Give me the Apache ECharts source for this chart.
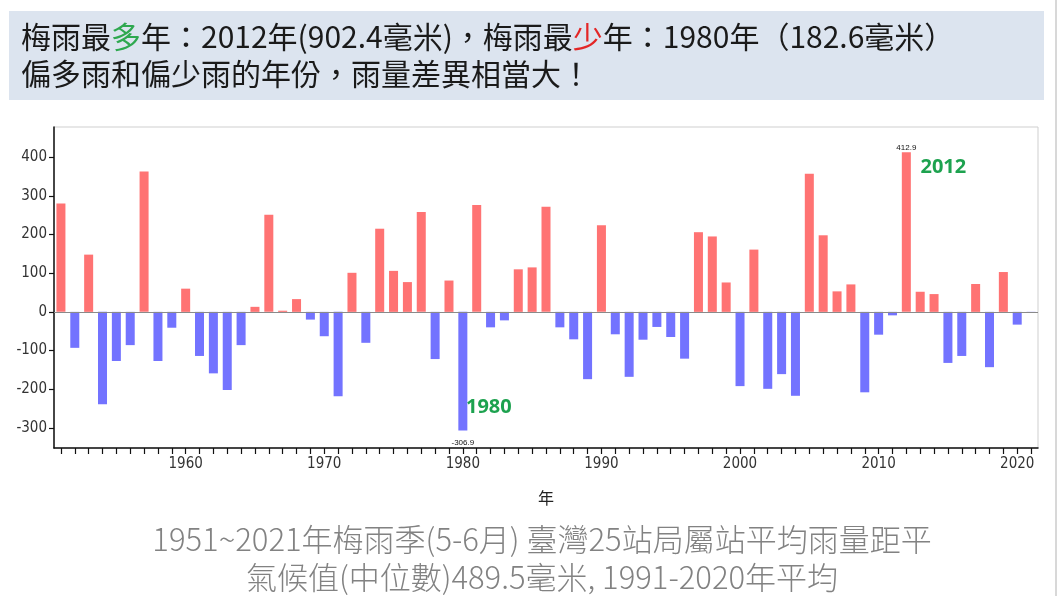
<!DOCTYPE html>
<html><head><meta charset="utf-8">
<script src="https://cdn.jsdelivr.net/npm/echarts@6/dist/echarts.min.js"></script>
<style>html,body{margin:0;padding:0;background:#fff}#c{width:1060px;height:596px}</style>
</head><body><div id="c"></div>
<script>
const years = ['1951','1952','1953','1954','1955','1956','1957','1958','1959','1960',
  '1961','1962','1963','1964','1965','1966','1967','1968','1969','1970',
  '1971','1972','1973','1974','1975','1976','1977','1978','1979','1980',
  '1981','1982','1983','1984','1985','1986','1987','1988','1989','1990',
  '1991','1992','1993','1994','1995','1996','1997','1998','1999','2000',
  '2001','2002','2003','2004','2005','2006','2007','2008','2009','2010',
  '2011','2012','2013','2014','2015','2016','2017','2018','2019','2020','2021'];
const anomalies = [280,-93,148,-239,-127,-86,363,-127,-41,60,
  -114,-159,-202,-86,13,251,3,33,-20,-63,
  -218,101,-80,215,106,77,258,-122,81,-306.9,
  276,-40,-22,110,115,272,-40,-71,-174,224,
  -58,-168,-72,-39,-65,-121,206,195,76,-192,
  161,-199,-161,-217,357,198,53,71,-208,-59,
  -9,412.9,52,46,-132,-114,72,-143,103,-33,-2];
const yTicks = [-300,-200,-100,0,100,200,300,400];
const xLabelYears = ['1960','1970','1980','1990','2000','2010','2020'];
const titleLine1 = ['梅雨最','多','年：2012年(902.4毫米)，梅雨最','少','年：1980年（182.6毫米）'];
const titleLine2 = '偏多雨和偏少雨的年份，雨量差異相當大！';
const captionLine1 = '1951~2021年梅雨季(5-6月) 臺灣25站局屬站平均雨量距平';
const captionLine2 = '氣候值(中位數)489.5毫米, 1991-2020年平均';
const axisName = '年';

const RED = '#FF7373', BLUE = '#7373FF', GREEN = '#1DA24F';
let iMax = 0, iMin = 0;
anomalies.forEach((v, i) => { if (v > anomalies[iMax]) iMax = i; if (v < anomalies[iMin]) iMin = i; });

const barData = anomalies.map((v, i) => {
  const item = { value: v, itemStyle: { color: v >= 0 ? RED : BLUE } };
  if (i === iMax || i === iMin) {
    item.label = { show: true, position: v >= 0 ? 'top' : 'bottom', distance: v >= 0 ? 0 : 8,
      formatter: String(v), fontSize: 8, color: '#111', fontFamily: 'Liberation Sans Narrow, Arial, sans-serif' };
  }
  return item;
});

const chart = echarts.init(document.getElementById('c'), null, { renderer: 'canvas' });
const cjk = '"Noto Sans CJK TC", "Noto Sans", sans-serif';
const narrow = '"Liberation Sans Narrow", "DejaVu Sans Condensed", Arial, sans-serif';

chart.setOption({
  animation: false,
  backgroundColor: '#fff',
  grid: { left: 54, right: 22, top: 127, bottom: 148, show: true, borderColor: '#cfcfcf', borderWidth: 1, backgroundColor: 'transparent' },
  xAxis: {
    type: 'category', data: years, boundaryGap: true,
    name: axisName, nameLocation: 'middle', nameGap: 42,
    nameTextStyle: { fontSize: 16, color: '#222', fontFamily: cjk },
    axisLine: { onZero: false, lineStyle: { color: '#111', width: 1.5 } },
    axisTick: { show: true, interval: 0, alignWithLabel: true, length: 6, lineStyle: { color: '#111', width: 1.2 } },
    axisLabel: { interval: (idx, val) => xLabelYears.indexOf(val) >= 0, fontSize: 15, color: '#333', fontFamily: narrow, margin: 9 },
    splitLine: { show: false }
  },
  yAxis: {
    type: 'value', min: -352, max: 478,
    axisLine: { show: true, lineStyle: { color: '#111', width: 1.5 } },
    axisTick: { show: true, length: 5, customValues: yTicks, lineStyle: { color: '#111', width: 1.2 } },
    axisLabel: { customValues: yTicks, fontSize: 15, color: '#333', fontFamily: narrow, margin: 7 },
    splitLine: { show: false }
  },
  series: [{
    type: 'bar', data: barData, barWidth: '65%',
    markLine: {
      silent: true, symbol: 'none', label: { show: false },
      lineStyle: { color: '#8a8a8a', type: 'solid', width: 1 },
      data: [{ yAxis: 0 }]
    },
    markPoint: {
      silent: true, symbol: 'rect', symbolSize: 1, itemStyle: { color: 'rgba(0,0,0,0)' },
      label: { show: true, position: 'inside', color: GREEN, fontSize: 20, fontWeight: 'bold', fontFamily: '"Open Sans", "Noto Sans", sans-serif' },
      data: [
        { coord: [years[iMax], anomalies[iMax]], label: { formatter: years[iMax], offset: [37, 15] } },
        { coord: [years[iMin], anomalies[iMin]], label: { formatter: years[iMin], offset: [26, -23] } }
      ]
    }
  }],
  graphic: [
    { type: 'rect', shape: { x: 9, y: 11, width: 1035, height: 89 }, style: { fill: '#DCE4EF' }, z: -1 },
    { type: 'text', x: 21, y: 37, style: {
        text: '{a|' + titleLine1[0] + '}{g|' + titleLine1[1] + '}{a|' + titleLine1[2] + '}{r|' + titleLine1[3] + '}{a|' + titleLine1[4] + '}',
        verticalAlign: 'middle',
        rich: {
          a: { fontSize: 30, fontFamily: cjk, fill: '#1a1a1a' },
          g: { fontSize: 30, fontFamily: cjk, fill: '#2EA84F' },
          r: { fontSize: 30, fontFamily: cjk, fill: '#E32626' }
        } } },
    { type: 'text', x: 21, y: 74, style: { text: titleLine2, fontSize: 30, fontFamily: cjk, fill: '#1a1a1a', verticalAlign: 'middle' } },
    { type: 'text', x: 542, y: 539, style: { text: captionLine1, fontSize: 31, fontFamily: cjk, fill: '#828282', align: 'center', verticalAlign: 'middle', fontWeight: 300 } },
    { type: 'text', x: 542, y: 577, style: { text: captionLine2, fontSize: 31, fontFamily: cjk, fill: '#828282', align: 'center', verticalAlign: 'middle', fontWeight: 300 } },
    { type: 'rect', shape: { x: 1055, y: 0, width: 2, height: 596 }, style: { fill: '#d8d8d8' } }
  ]
});
</script>
</body></html>
